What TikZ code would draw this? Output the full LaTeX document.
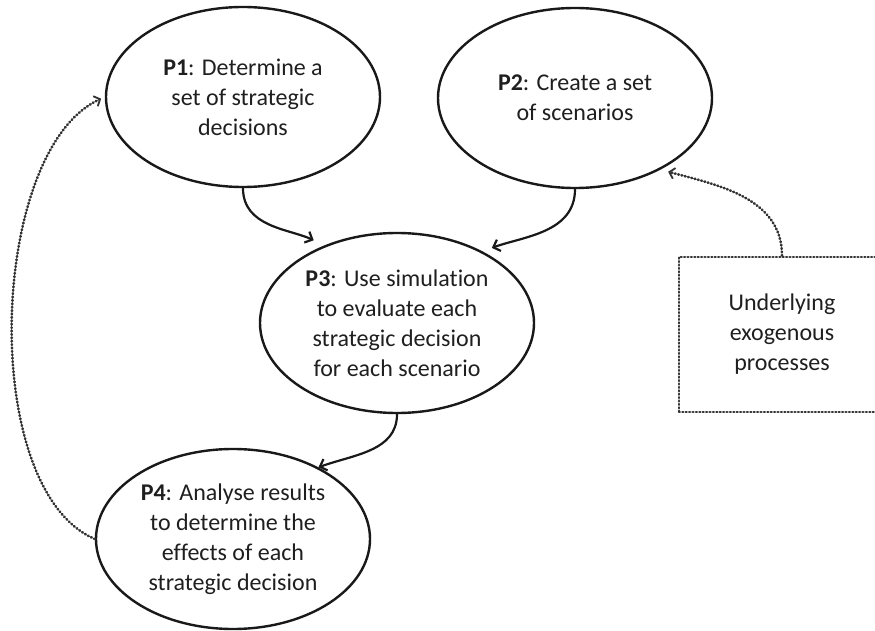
\documentclass[tikz,border=0pt]{standalone}
\usepackage{fontspec}
\setmainfont[Ligatures={NoCommon,NoContextual}]{Carlito}
\usetikzlibrary{shapes.geometric,arrows.meta,calc}
\begin{document}
\begin{tikzpicture}[x=1pt,y=1pt,
  proc/.style={ellipse, draw=black!90, line width=2.4pt, minimum width=274pt, minimum height=180pt,
    inner sep=0pt, align=center, font=\fontsize{24}{30}\selectfont, text=black!88},
  exo/.style={rectangle, draw=black!80, line width=2.6pt, dash pattern=on 0.8pt off 2.6pt, line cap=round,
    minimum width=206pt, minimum height=155pt, inner sep=0pt, align=center,
    font=\fontsize{24}{30}\selectfont, text=black!88},
  flow/.style={line width=2.2pt, draw=black!90, -{Straight Barb[length=6pt,width=12pt]}},
  dotarrow/.style={line width=2.6pt, draw=black!80, dash pattern=on 0.8pt off 2.6pt, line cap=round,
    -{Straight Barb[length=5pt,width=11pt,line width=1.8pt]}}
]
\useasboundingbox (0,0) rectangle (875,630);

\node[proc] (P1) at (243,533) {\textbf{P1}: Determine a\\set of strategic\\decisions};
\node[proc] (P2) at (575,532) {\textbf{P2}: Create a set\\of scenarios};
\node[proc] (P3) at (397,307) {\textbf{P3}: Use simulation\\to evaluate each\\strategic decision\\for each scenario};
\node[proc] (P4) at (233,91) {\textbf{P4}: Analyse results\\to determine the\\effects of each\\strategic decision};
\node[exo] (X) at (782,295.5) {Underlying\\exogenous\\processes};

\draw[flow, shorten >=12pt] (P1.south) to[out=-90,in=155] (P3.133);
\draw[flow, shorten >=10pt] (P2.south) to[out=-90,in=20] (P3.40);
\draw[flow] (P3.south) to[out=-90,in=20] (P4.40);
\draw[dotarrow, shorten >=8pt] (X.north) to[out=90,in=-15] (P2.-40);
\draw[dotarrow, shorten >=4pt] (P4.west) .. controls ($(P4.west)+(-117,50)$) and ($(P1.west)+(-116,-53)$) .. (P1.west);
\end{tikzpicture}
\end{document}
